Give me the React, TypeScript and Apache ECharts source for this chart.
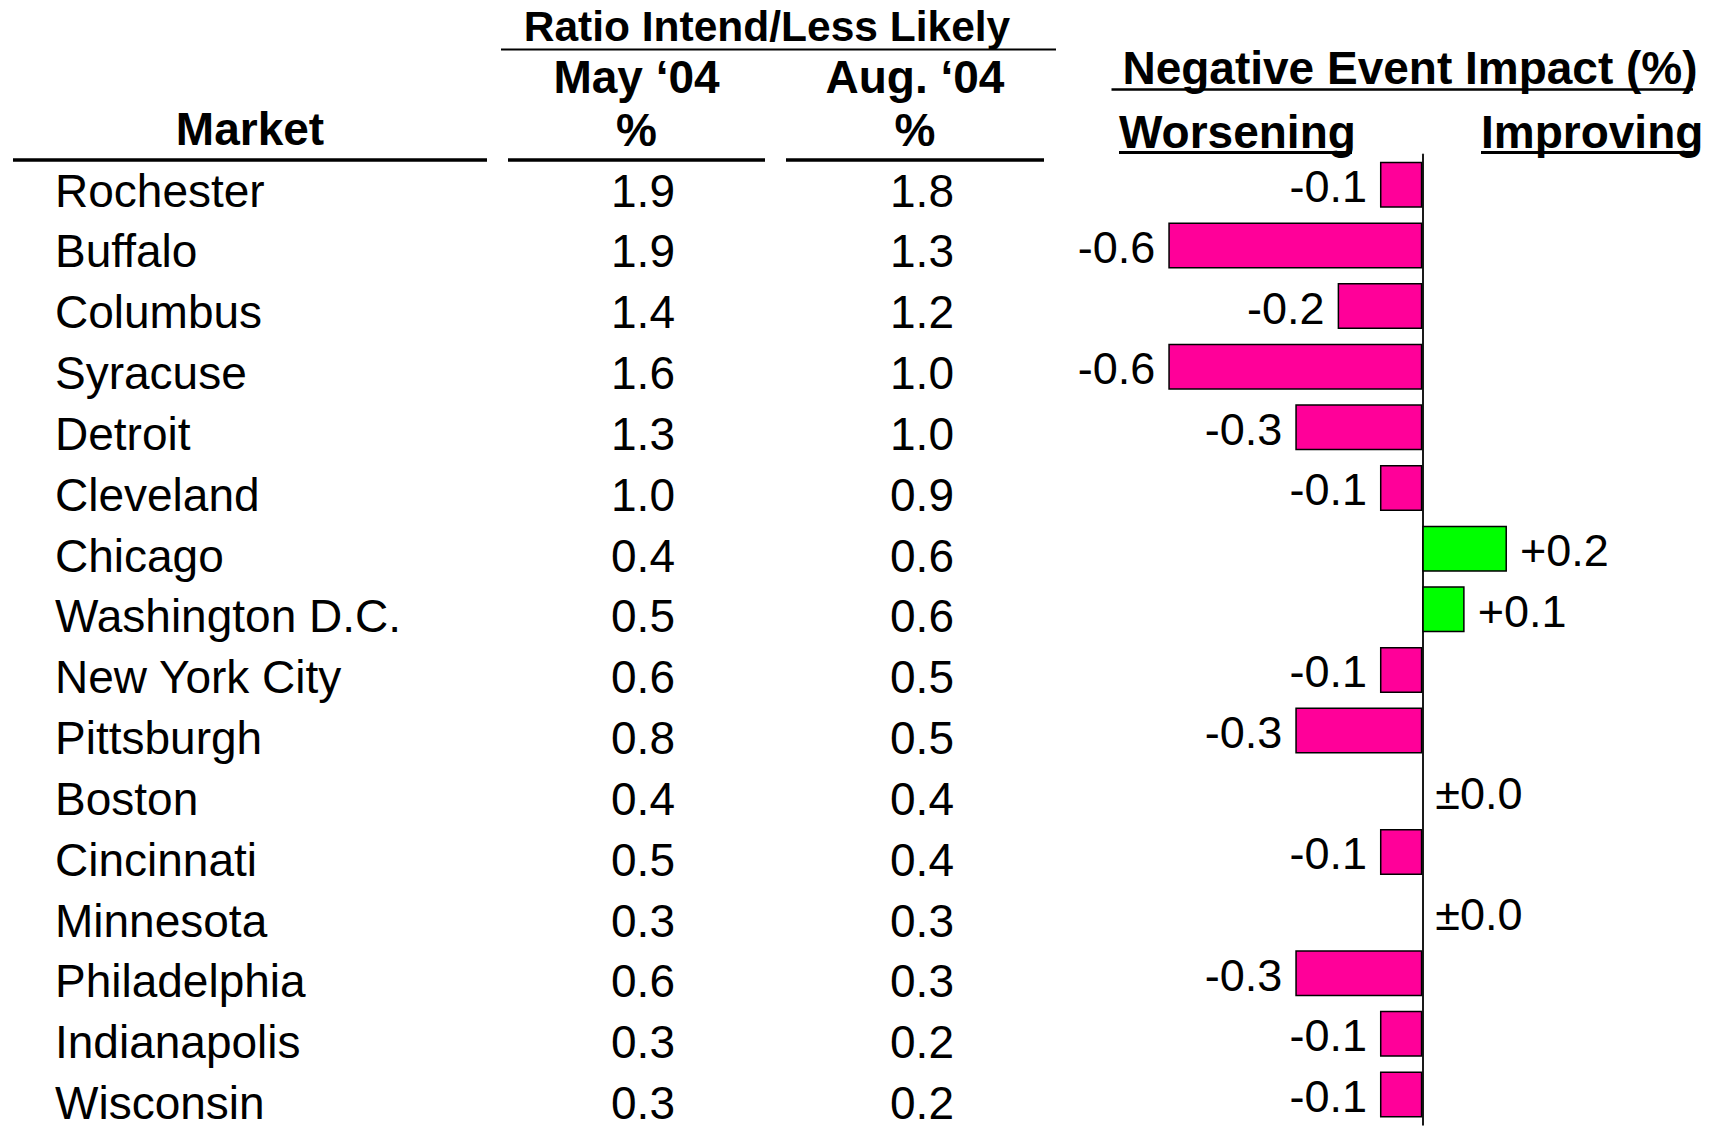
import React, { useEffect, useRef } from "react";
import * as echarts from "echarts";

const markets = [
  "Rochester", "Buffalo", "Columbus", "Syracuse", "Detroit", "Cleveland", "Chicago",
  "Washington D.C.", "New York City", "Pittsburgh", "Boston", "Cincinnati", "Minnesota",
  "Philadelphia", "Indianapolis", "Wisconsin",
];
const mayRatio = [1.9, 1.9, 1.4, 1.6, 1.3, 1.0, 0.4, 0.5, 0.6, 0.8, 0.4, 0.5, 0.3, 0.6, 0.3, 0.3];
const augRatio = [1.8, 1.3, 1.2, 1.0, 1.0, 0.9, 0.6, 0.6, 0.5, 0.5, 0.4, 0.4, 0.3, 0.3, 0.2, 0.2];
const eventImpact = [-0.1, -0.6, -0.2, -0.6, -0.3, -0.1, 0.2, 0.1, -0.1, -0.3, 0, -0.1, 0, -0.3, -0.1, -0.1];

const FONT = '"Liberation Sans", Arial, Helvetica, sans-serif';
const PINK = "#FF0099";
const GREEN = "#00FF00";

const fmtImpact = (v: number) => (v > 0 ? "+" + v.toFixed(1) : v < 0 ? v.toFixed(1) : "\u00B10.0");

export default function App() {
  const ref = useRef<HTMLDivElement>(null);
  useEffect(() => {
    if (!ref.current) return;
    const chart = echarts.init(ref.current, null, { renderer: "svg" });

    // text rows: first row center and spacing (boundaryGap false puts labels on grid edges)
    const firstRow = 190.5;
    const rowStep = 61.12;
    const textAxis = (gridIndex: number, data: string[], align: string) => ({
      type: "category",
      gridIndex,
      data,
      inverse: true,
      boundaryGap: false,
      axisLine: { show: false },
      axisTick: { show: false },
      splitLine: { show: false },
      axisLabel: {
        show: true,
        interval: 0,
        align,
        margin: 0,
        fontSize: 46,
        color: "#000",
        fontFamily: FONT,
      },
    });
    const hiddenX = (gridIndex: number) => ({
      type: "value",
      gridIndex,
      min: 0,
      max: 1,
      show: false,
    });

    const bold = (text: string, x: number, y: number, size: number, align = "center") => ({
      type: "text",
      x,
      y,
      style: {
        text,
        fontSize: size,
        fontWeight: "bold",
        fontFamily: FONT,
        fill: "#000",
        align,
        verticalAlign: "middle",
      },
    });
    const hline = (x1: number, x2: number, y: number, w: number) => ({
      type: "line",
      shape: { x1, y1: y, x2, y2: y },
      style: { stroke: "#000", lineWidth: w },
    });

    const textGrid = (left: number) => ({ left, width: 10, top: firstRow, height: rowStep * (markets.length - 1) });

    chart.setOption({
      animation: false,
      backgroundColor: "#fff",
      grid: [
        { left: 1168.3, width: 508, top: 154.4, height: 16 * 60.65 },
        textGrid(55),
        textGrid(643),
        textGrid(922),
      ],
      xAxis: [
        {
          type: "value",
          gridIndex: 0,
          min: -0.6,
          max: 0.6,
          axisLine: { show: false },
          axisTick: { show: false },
          axisLabel: { show: false },
          splitLine: { show: false },
        },
        hiddenX(1),
        hiddenX(2),
        hiddenX(3),
      ],
      yAxis: [
        {
          type: "category",
          gridIndex: 0,
          data: markets,
          inverse: true,
          axisLine: { show: true, onZero: true, lineStyle: { color: "#1a1a1a", width: 2 } },
          axisTick: { show: false },
          axisLabel: { show: false },
          splitLine: { show: false },
        },
        textAxis(1, markets, "left"),
        textAxis(2, mayRatio.map((v) => v.toFixed(1)), "center"),
        textAxis(3, augRatio.map((v) => v.toFixed(1)), "center"),
      ],
      series: [
        {
          type: "bar",
          xAxisIndex: 0,
          yAxisIndex: 0,
          barWidth: 46,
          data: eventImpact.map((v) => ({
            value: v,
            itemStyle: { color: v > 0 ? GREEN : PINK, borderColor: "#000", borderWidth: v === 0 ? 0 : 1.5 },
            label: { position: v >= 0 ? "right" : "left" },
          })),
          label: {
            show: true,
            distance: 13,
            offset: [0, 2],
            fontSize: 45,
            fontFamily: FONT,
            color: "#000",
            formatter: (p: any) => fmtImpact(p.value),
          },
        },
      ],
      graphic: [
        bold("Ratio Intend/Less Likely", 767, 26, 42.5),
        hline(501, 1056, 49.5, 2),
        bold("May \u201804", 636.5, 77, 46),
        bold("Aug. \u201804", 915, 77, 46),
        bold("%", 636.5, 130, 46),
        bold("%", 915, 130, 46),
        bold("Market", 250, 129, 46),
        hline(13, 487, 160, 3.5),
        hline(508, 765, 160, 3.5),
        hline(786, 1044, 160, 3.5),
        bold("Negative Event Impact (%)", 1410, 68, 46),
        hline(1111.5, 1693, 89.5, 2.5),
        bold("Worsening", 1119, 132, 46, "left"),
        hline(1119, 1352, 152.5, 3),
        bold("Improving", 1481, 132, 46, "left"),
        hline(1481, 1698, 152.5, 3),
      ],
    });
    return () => chart.dispose();
  }, []);
  return (
    <div
      ref={ref}
      style={{ position: "absolute", left: 0, top: 0, width: 1712, height: 1126, background: "#fff" }}
    />
  );
}
